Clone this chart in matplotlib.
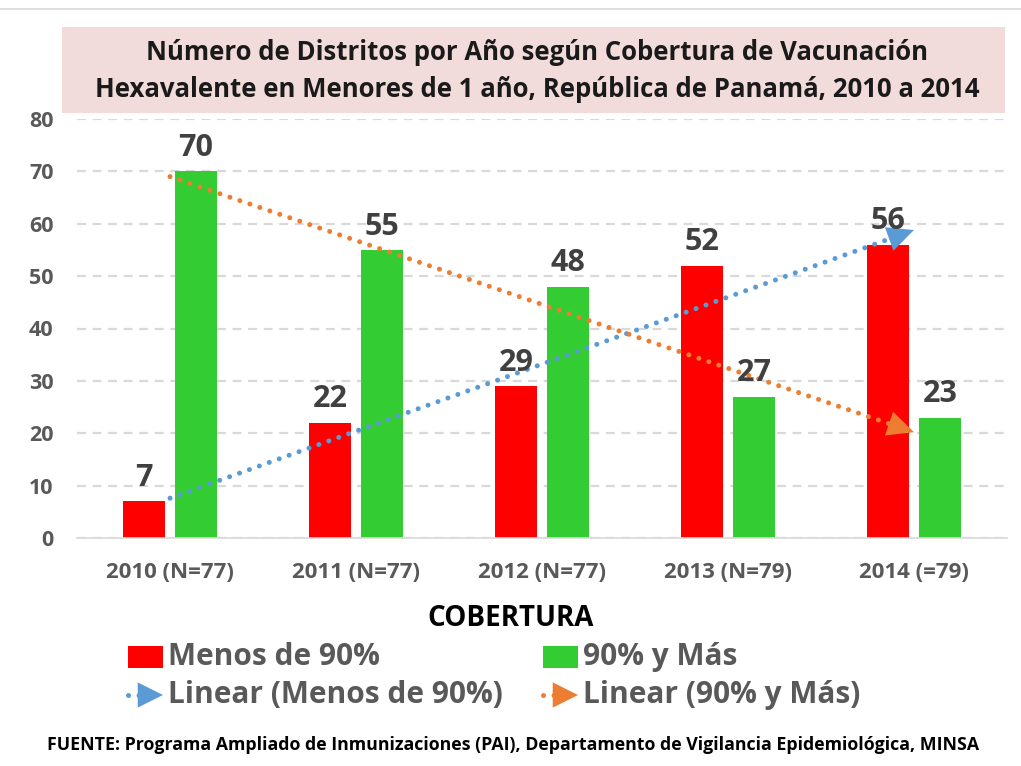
import matplotlib

matplotlib.use('Agg')
import matplotlib.pyplot as plt
from matplotlib.patches import Rectangle, FancyArrowPatch
import numpy as np

# datos
years = ["2010 (N=77)", "2011 (N=77)", "2012 (N=77)", "2013 (N=79)", "2014 (=79)"]
menos_90 = [7, 22, 29, 52, 56]
mas_90 = [70, 55, 48, 27, 23]
y_ticks = [0, 10, 20, 30, 40, 50, 60, 70, 80]

RED = '#FF0000'
GREEN = '#33CC33'
BLUE = '#5B9BD5'
ORANGE = '#ED7D31'
GRAY_TXT = '#595959'
LABEL_TXT = '#404040'

plt.rcParams['font.family'] = ['Open Sans', 'DejaVu Sans']

W, H = 1021, 766
fig = plt.figure(figsize=(W / 100, H / 100), dpi=100)

# linea gris superior
fig.add_artist(plt.Line2D([0, 1], [1 - 9 / H, 1 - 9 / H], color='#D9D9D9', lw=1.2))

# caja del titulo
fig.add_artist(Rectangle((62 / W, 1 - 113 / H), (1005 - 62) / W, 86 / H,
                         transform=fig.transFigure, facecolor='#F2DCDB', edgecolor='none'))
fig.text(537 / W, 1 - 71 / H,
         "Número de Distritos por Año según Cobertura de Vacunación\n"
         "Hexavalente en Menores de 1 año, República de Panamá, 2010 a 2014",
         ha='center', va='center', fontsize=18.5, fontweight='bold', color='#1a1a1a',
         linespacing=1.45)

ax = fig.add_axes([77 / W, 1 - 538 / H, 930 / W, 419 / H])

x = np.arange(len(years))
w = 0.225
off = 0.14
b1 = ax.bar(x - off, menos_90, w, color=RED, zorder=2)
b2 = ax.bar(x + off, mas_90, w, color=GREEN, zorder=2)

for bars, vals in ((b1, menos_90), (b2, mas_90)):
    for rect, v in zip(bars, vals):
        ax.annotate(str(v), (rect.get_x() + rect.get_width() / 2, v),
                    xytext=(0, 6), textcoords='offset points', ha='center', va='bottom',
                    fontsize=22, fontweight='bold', color=LABEL_TXT, zorder=5)

# lineas de tendencia (regresion lineal)
for vals, col in ((menos_90, BLUE), (mas_90, ORANGE)):
    m, c = np.polyfit(x, vals, 1)
    ys = m * x + c
    ax.plot([x[0], x[-1]], [ys[0], ys[-1]], color=col, lw=3.6,
            linestyle=(0, (0.01, 2.1)), dash_capstyle='round', zorder=4)
    ax.annotate('', xy=(x[-1], ys[-1]), xytext=(x[-1] - 0.08, ys[-1] - m * 0.08),
                arrowprops=dict(arrowstyle='-|>,head_length=1.9,head_width=0.9',
                                color=col, lw=0, shrinkA=0, shrinkB=0), zorder=4)

ax.set_xlim(-0.5, 4.5)
ax.set_ylim(0, 80)
ax.set_yticks(y_ticks)
ax.set_xticks(x)
ax.set_xticklabels(years)
ax.yaxis.grid(True, color='#D9D9D9', linestyle=(0, (4, 3)), lw=1.6, zorder=0)
for s in ('top', 'right', 'left'):
    ax.spines[s].set_visible(False)
ax.spines['bottom'].set_color('#D9D9D9')
ax.spines['bottom'].set_linewidth(1.2)
ax.tick_params(axis='both', length=0, labelsize=15.5, labelcolor=GRAY_TXT)
ax.tick_params(axis='x', pad=17, labelsize=16)
ax.tick_params(axis='y', pad=17)
for lab in ax.get_xticklabels() + ax.get_yticklabels():
    lab.set_fontweight('bold')

# leyenda
fig.text(511 / W, 1 - 618 / H, "COBERTURA", ha='center', va='center',
         fontsize=20, fontweight='bold', color='black')

def legend_box(x0, y0, col, text):
    fig.add_artist(Rectangle((x0 / W, 1 - (y0 + 11) / H), 35 / W, 22 / H,
                             transform=fig.transFigure, facecolor=col, edgecolor='none'))
    fig.text((x0 + 40) / W, 1 - y0 / H, text, ha='left', va='center',
             fontsize=21.5, fontweight='bold', color=GRAY_TXT)

def legend_trend(x0, y0, col, text):
    yy = 1 - y0 / H
    fig.add_artist(plt.Line2D([(x0 + 3) / W, (x0 + 14) / W], [yy, yy], color=col, lw=3.6,
                              linestyle=(0, (0.01, 2.1)), dash_capstyle='round'))
    fig.add_artist(FancyArrowPatch(
        ((x0 + 14) / W, yy), ((x0 + 38) / W, yy), transform=fig.transFigure,
        arrowstyle='-|>,head_length=1.3,head_width=0.65', mutation_scale=14,
        color=col, lw=0, shrinkA=0, shrinkB=0))
    fig.text((x0 + 43) / W, yy, text, ha='left', va='center',
             fontsize=21.5, fontweight='bold', color=GRAY_TXT)

legend_box(128, 657, RED, "Menos de 90%")
legend_box(543, 657, GREEN, "90% y Más")
legend_trend(125, 695, BLUE, "Linear (Menos de 90%)")
legend_trend(540, 695, ORANGE, "Linear (90% y Más)")

fig.text(513 / W, 1 - 745 / H,
         "FUENTE: Programa Ampliado de Inmunizaciones (PAI), Departamento de Vigilancia Epidemiológica, MINSA",
         ha='center', va='center', fontsize=12.8, fontweight='bold', color='black')

fig.savefig('out.png', dpi=100)
